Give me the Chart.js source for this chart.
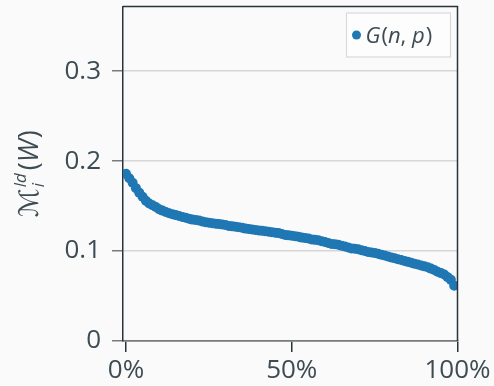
<!DOCTYPE html>
<html>
<head>
<meta charset="utf-8">
<script src="https://cdn.jsdelivr.net/npm/chart.js"></script>
<style>
    html, body { margin: 0; padding: 0; background: #fafafa; }
    #wrap { width: 494px; height: 386px; }
</style>
</head>
<body>
<div id="wrap"><canvas id="chart" width="494" height="386"></canvas></div>
<script>
// values, ranked from highest to lowest
const seriesLabel = 'G(n, p)';
const xTicks = [0, 0.5, 1];
const yTicks = [0, 0.1, 0.2, 0.3];
const scoreValues = [
    0.186, 0.181, 0.176, 0.170, 0.165, 0.1605, 0.156, 0.153, 0.151, 0.149,
    0.1465, 0.145, 0.1435, 0.142, 0.141, 0.140, 0.139, 0.138, 0.137, 0.136,
    0.135, 0.1345, 0.134, 0.133, 0.132, 0.1315, 0.131, 0.1305, 0.130, 0.1295,
    0.129, 0.128, 0.1275, 0.127, 0.1265, 0.126, 0.125, 0.1245, 0.124, 0.1235,
    0.123, 0.1225, 0.122, 0.1215, 0.121, 0.1205, 0.120, 0.119, 0.118, 0.1175,
    0.117, 0.1165, 0.116, 0.115, 0.1145, 0.114, 0.113, 0.1125, 0.112, 0.111,
    0.110, 0.109, 0.108, 0.1075, 0.107, 0.106, 0.105, 0.104, 0.103, 0.1025,
    0.102, 0.101, 0.100, 0.099, 0.0985, 0.098, 0.097, 0.096, 0.095, 0.094,
    0.093, 0.092, 0.091, 0.090, 0.089, 0.088, 0.087, 0.086, 0.085, 0.084,
    0.083, 0.082, 0.0805, 0.079, 0.077, 0.0755, 0.074, 0.071, 0.068, 0.0615
];

const BLUE = '#1f77b4';
const TEXT = '#3d4b53';
const DARK = '#27353b';
const MID = '#7a7a7a';
const FONT = "'Open Sans', 'DejaVu Sans', sans-serif";

// rank position of each value (i-th of n)
const points = scoreValues.map((v, i) => ({ x: i / scoreValues.length, y: v }));

// draws a run of text pieces left to right, each with its own font and shift
function drawPieces(ctx, pieces, x, y) {
    let cx = x;
    pieces.forEach(p => {
        ctx.font = p.font;
        ctx.fillText(p.text, cx, y + (p.dy || 0));
        if (!p.noAdvance) cx += ctx.measureText(p.text).width + (p.gap || 0);
    });
    return cx;
}

function piecesWidth(ctx, pieces) {
    let w = 0;
    pieces.forEach(p => {
        ctx.font = p.font;
        if (!p.noAdvance) w += ctx.measureText(p.text).width + (p.gap || 0);
    });
    return w;
}

const decorations = {
    id: 'decorations',
    beforeDraw(chart) {
        const ctx = chart.ctx;
        ctx.save();
        ctx.fillStyle = '#fafafa';
        ctx.fillRect(0, 0, chart.width, chart.height);
        ctx.restore();
    },
    afterDraw(chart) {
        const ctx = chart.ctx;
        const area = chart.chartArea;
        ctx.save();

        // top and right frame lines
        ctx.strokeStyle = DARK;
        ctx.lineWidth = 1.5;
        ctx.beginPath();
        ctx.moveTo(area.left, area.top);
        ctx.lineTo(area.right, area.top);
        ctx.lineTo(area.right, area.bottom);
        ctx.stroke();

        // legend box
        const bx = area.right - 111, by = area.top + 6.5, bw = 104, bh = 44;
        ctx.fillStyle = '#fdfdfd';
        ctx.strokeStyle = '#d9d9d9';
        ctx.lineWidth = 1.2;
        ctx.fillRect(bx, by, bw, bh);
        ctx.strokeRect(bx, by, bw, bh);
        ctx.fillStyle = BLUE;
        ctx.beginPath();
        ctx.arc(bx + 10, by + 22, 4.5, 0, Math.PI * 2);
        ctx.fill();
        ctx.fillStyle = TEXT;
        ctx.textBaseline = 'alphabetic';
        const it = `italic 22px ${FONT}`, up = `22px ${FONT}`;
        drawPieces(ctx, [
            { text: 'G', font: it, gap: 1 },
            { text: '(', font: up },
            { text: 'n', font: it },
            { text: ', ', font: up },
            { text: 'p', font: it, gap: 1 },
            { text: ')', font: up }
        ], bx + 19, by + 30);

        // y axis title, rotated
        const big = `27px ${FONT}`, bigIt = `italic 27px ${FONT}`, small = `italic 17px ${FONT}`;
        ctx.font = small;
        const scriptW = Math.max(ctx.measureText('ld').width, ctx.measureText('i').width);
        const title = [
            { text: '\u2133', font: big, gap: 1 },
            { text: 'ld', font: small, dy: -12, noAdvance: true },
            { text: 'i', font: small, dy: 6, noAdvance: true },
            { text: '', font: small, gap: scriptW + 3 },
            { text: '(', font: big },
            { text: 'W', font: bigIt, gap: 1 },
            { text: ')', font: big }
        ];
        ctx.translate(38, (area.top + area.bottom) / 2);
        ctx.rotate(-Math.PI / 2);
        const tw = piecesWidth(ctx, title);
        drawPieces(ctx, title, -tw / 2, 0);

        ctx.restore();
    }
};

new Chart(document.getElementById('chart'), {
    type: 'scatter',
    data: {
        datasets: [{
            label: seriesLabel,
            data: points,
            pointRadius: 5,
            pointHoverRadius: 5,
            pointBackgroundColor: BLUE,
            pointBorderWidth: 0,
            showLine: false
        }]
    },
    options: {
        responsive: false,
        animation: false,
        devicePixelRatio: 1,
        layout: { padding: { left: 0, top: 6.5, right: 36.5, bottom: 0 } },
        plugins: {
            legend: { display: false },
            tooltip: { enabled: false }
        },
        scales: {
            x: {
                type: 'linear',
                min: -0.009,
                max: 1,
                afterBuildTicks: s => { s.ticks = xTicks.map(v => ({ value: v })); },
                afterFit: s => { s.height = 45; s.paddingLeft = 0; s.paddingRight = 0; },
                grid: { drawOnChartArea: false, drawTicks: true, tickLength: 11, tickColor: DARK, lineWidth: 1.5 },
                border: { color: MID, width: 1.5 },
                ticks: {
                    callback: v => Math.round(v * 100) + '%',
                    font: { family: FONT, size: 26 },
                    color: TEXT,
                    padding: 3,
                    maxRotation: 0,
                    autoSkip: false
                }
            },
            y: {
                min: 0,
                max: 0.372,
                afterBuildTicks: s => { s.ticks = yTicks.map(v => ({ value: v })); },
                afterFit: s => { s.width = 123; s.paddingTop = 0; s.paddingBottom = 0; },
                grid: {
                    color: c => (c.tick && c.tick.value === 0 ? MID : '#d6d6d6'),
                    tickColor: MID,
                    tickLength: 11,
                    lineWidth: 1.5
                },
                border: { color: DARK, width: 1.5 },
                ticks: {
                    callback: v => (v === 0 ? '0' : v.toFixed(1)),
                    font: { family: FONT, size: 26 },
                    color: TEXT,
                    padding: 11
                }
            }
        }
    },
    plugins: [decorations]
});
</script>
</body>
</html>
